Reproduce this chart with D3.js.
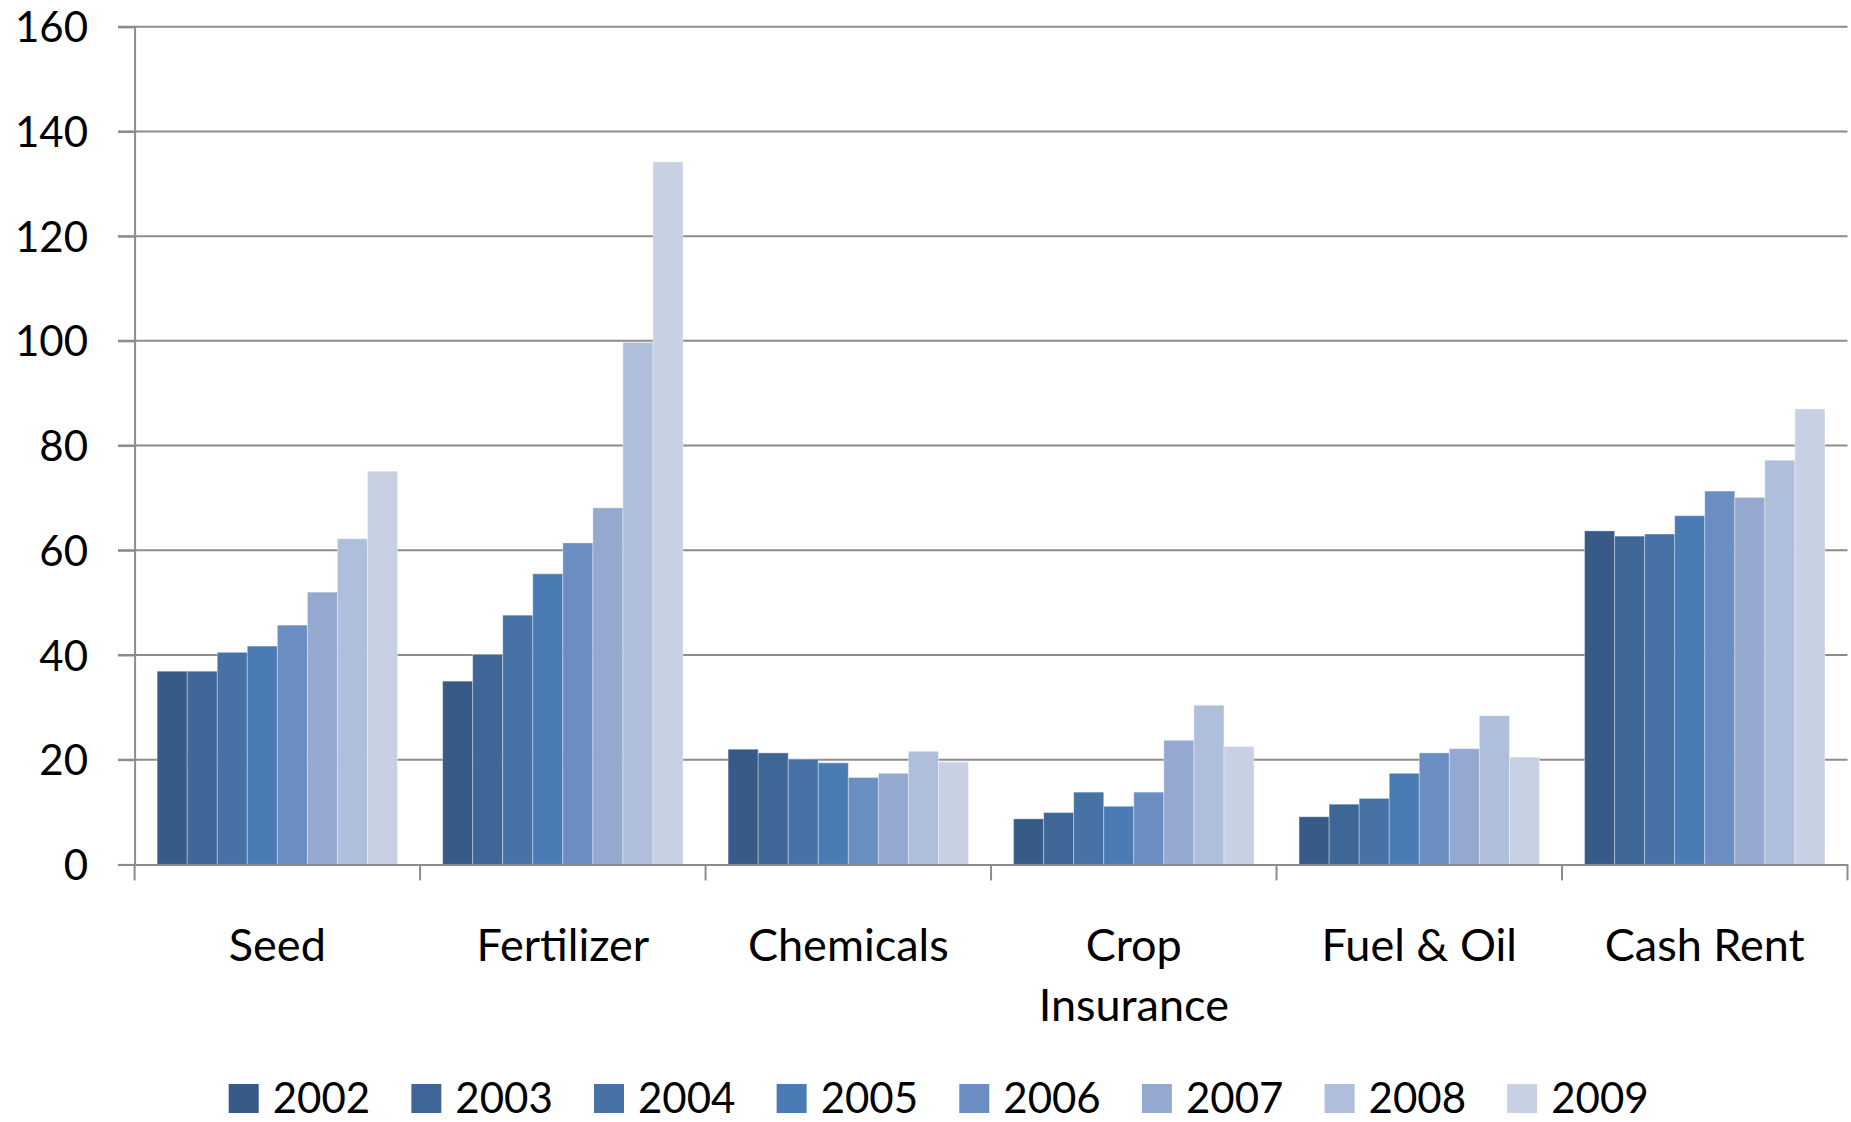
<!DOCTYPE html>
<html><head><meta charset="utf-8">
<script src="https://cdn.jsdelivr.net/npm/d3@7"></script>
<style>body{margin:0;background:#fff;} svg{display:block;}</style>
</head><body>
<script>
const categories = ["Seed", "Fertilizer", "Chemicals", "Crop Insurance", "Fuel & Oil", "Cash Rent"];
const years = ["2002","2003","2004","2005","2006","2007","2008","2009"];
const v2002 = [36.9, 35.0, 22.0, 8.7, 9.1, 63.7];
const v2003 = [36.9, 40.1, 21.3, 9.9, 11.5, 62.7];
const v2004 = [40.5, 47.6, 20.1, 13.8, 12.6, 63.1];
const v2005 = [41.7, 55.5, 19.4, 11.1, 17.4, 66.6];
const v2006 = [45.7, 61.4, 16.6, 13.8, 21.3, 71.3];
const v2007 = [52.0, 68.1, 17.4, 23.7, 22.1, 70.1];
const v2008 = [62.2, 99.7, 21.6, 30.4, 28.4, 77.2];
const v2009 = [75.1, 134.2, 19.6, 22.5, 20.5, 87.0];
const series = [v2002, v2003, v2004, v2005, v2006, v2007, v2008, v2009];
const yTicks = [0, 20, 40, 60, 80, 100, 120, 140, 160];
const colors = ["#375a86","#3e6697","#4672a6","#4a7bb4","#6a8ec2","#95a9d0","#afbfdb","#c8d1e4"];

const W = 1851, H = 1122;
const svg = d3.select("body").append("svg").attr("width", W).attr("height", H);
const font = "Lato, 'Open Sans', sans-serif";

const x0 = d3.scaleBand().domain(categories).range([134.6, 1847.5]).paddingInner(0).paddingOuter(0);
// bar width = band/9.5 ; outer padding 0.75 bar on each side
const x1 = d3.scaleBand().domain(years).range([0, x0.bandwidth()]).paddingInner(0).paddingOuter(0.75);
const y = d3.scaleLinear().domain([0, 160]).range([864.4, 26.7]);

// gridlines
svg.append("g").selectAll("line").data(yTicks.filter(d => d > 0)).join("line")
  .attr("x1", 118).attr("x2", 1847.5)
  .attr("y1", d => y(d)).attr("y2", d => y(d))
  .attr("stroke", "#8c8c8c").attr("stroke-width", 2);

// y axis
const yAxis = d3.axisLeft(y).tickValues(yTicks).tickSize(16.6).tickPadding(30);
const gy = svg.append("g").attr("transform", "translate(134.6,0)").call(yAxis);
gy.select(".domain").attr("stroke", "#8c8c8c").attr("stroke-width", 2);
gy.selectAll(".tick line").attr("stroke", "#8c8c8c").attr("stroke-width", 2);
gy.selectAll(".tick text").attr("font-family", font).attr("font-size", 42).attr("fill", "#000")
  .attr("dy", "0.36em");

// bars
const groups = svg.append("g").selectAll("g").data(categories).join("g")
  .attr("transform", c => `translate(${x0(c)},0)`);
groups.selectAll("rect").data((c, ci) => years.map((yr, si) => ({yr, si, v: series[si][ci]}))).join("rect")
  .attr("x", d => x1(d.yr)).attr("width", x1.bandwidth())
  .attr("y", d => y(d.v)).attr("height", d => y(0) - y(d.v))
  .attr("fill", d => colors[d.si])
  .attr("stroke", "rgba(255,255,255,0.35)").attr("stroke-width", 1);

// x axis
const xAxis = d3.axisBottom(x0).tickSize(0).tickFormat("");
const gx = svg.append("g").attr("transform", `translate(0,${y(0)})`).call(xAxis);
gx.select(".domain").attr("stroke", "#8c8c8c").attr("stroke-width", 2);
// category boundary ticks
const bounds = categories.map(c => x0(c)).concat([x0.range()[1]]);
svg.append("g").selectAll("line").data(bounds).join("line")
  .attr("x1", d => d).attr("x2", d => d).attr("y1", y(0)).attr("y2", y(0) + 16)
  .attr("stroke", "#8c8c8c").attr("stroke-width", 2);

// category labels
const labelLines = {"Crop Insurance": ["Crop", "Insurance"]};
const lab = svg.append("g").selectAll("text").data(categories).join("text")
  .attr("x", c => x0(c) + x0.bandwidth() / 2).attr("y", 961)
  .attr("text-anchor", "middle").attr("font-family", font).attr("font-size", 45).attr("fill", "#000");
lab.each(function(c) {
  const lines = labelLines[c] || [c];
  d3.select(this).selectAll("tspan").data(lines).join("tspan")
    .attr("x", x0(c) + x0.bandwidth() / 2).attr("dy", (d, i) => i === 0 ? 0 : 60).text(d => d);
});

// legend
const legendX = d3.scalePoint().domain(years).range([228.7, 1507.2]);
const lg = svg.append("g").selectAll("g").data(years).join("g")
  .attr("transform", d => `translate(${legendX(d)},0)`);
lg.append("rect").attr("x", 0).attr("y", 1084).attr("width", 30).attr("height", 29)
  .attr("fill", (d, i) => colors[i]);
lg.append("text").attr("x", 44).attr("y", 1113).attr("font-family", font).attr("font-size", 42)
  .attr("fill", "#000").text(d => d);
</script>
</body></html>
